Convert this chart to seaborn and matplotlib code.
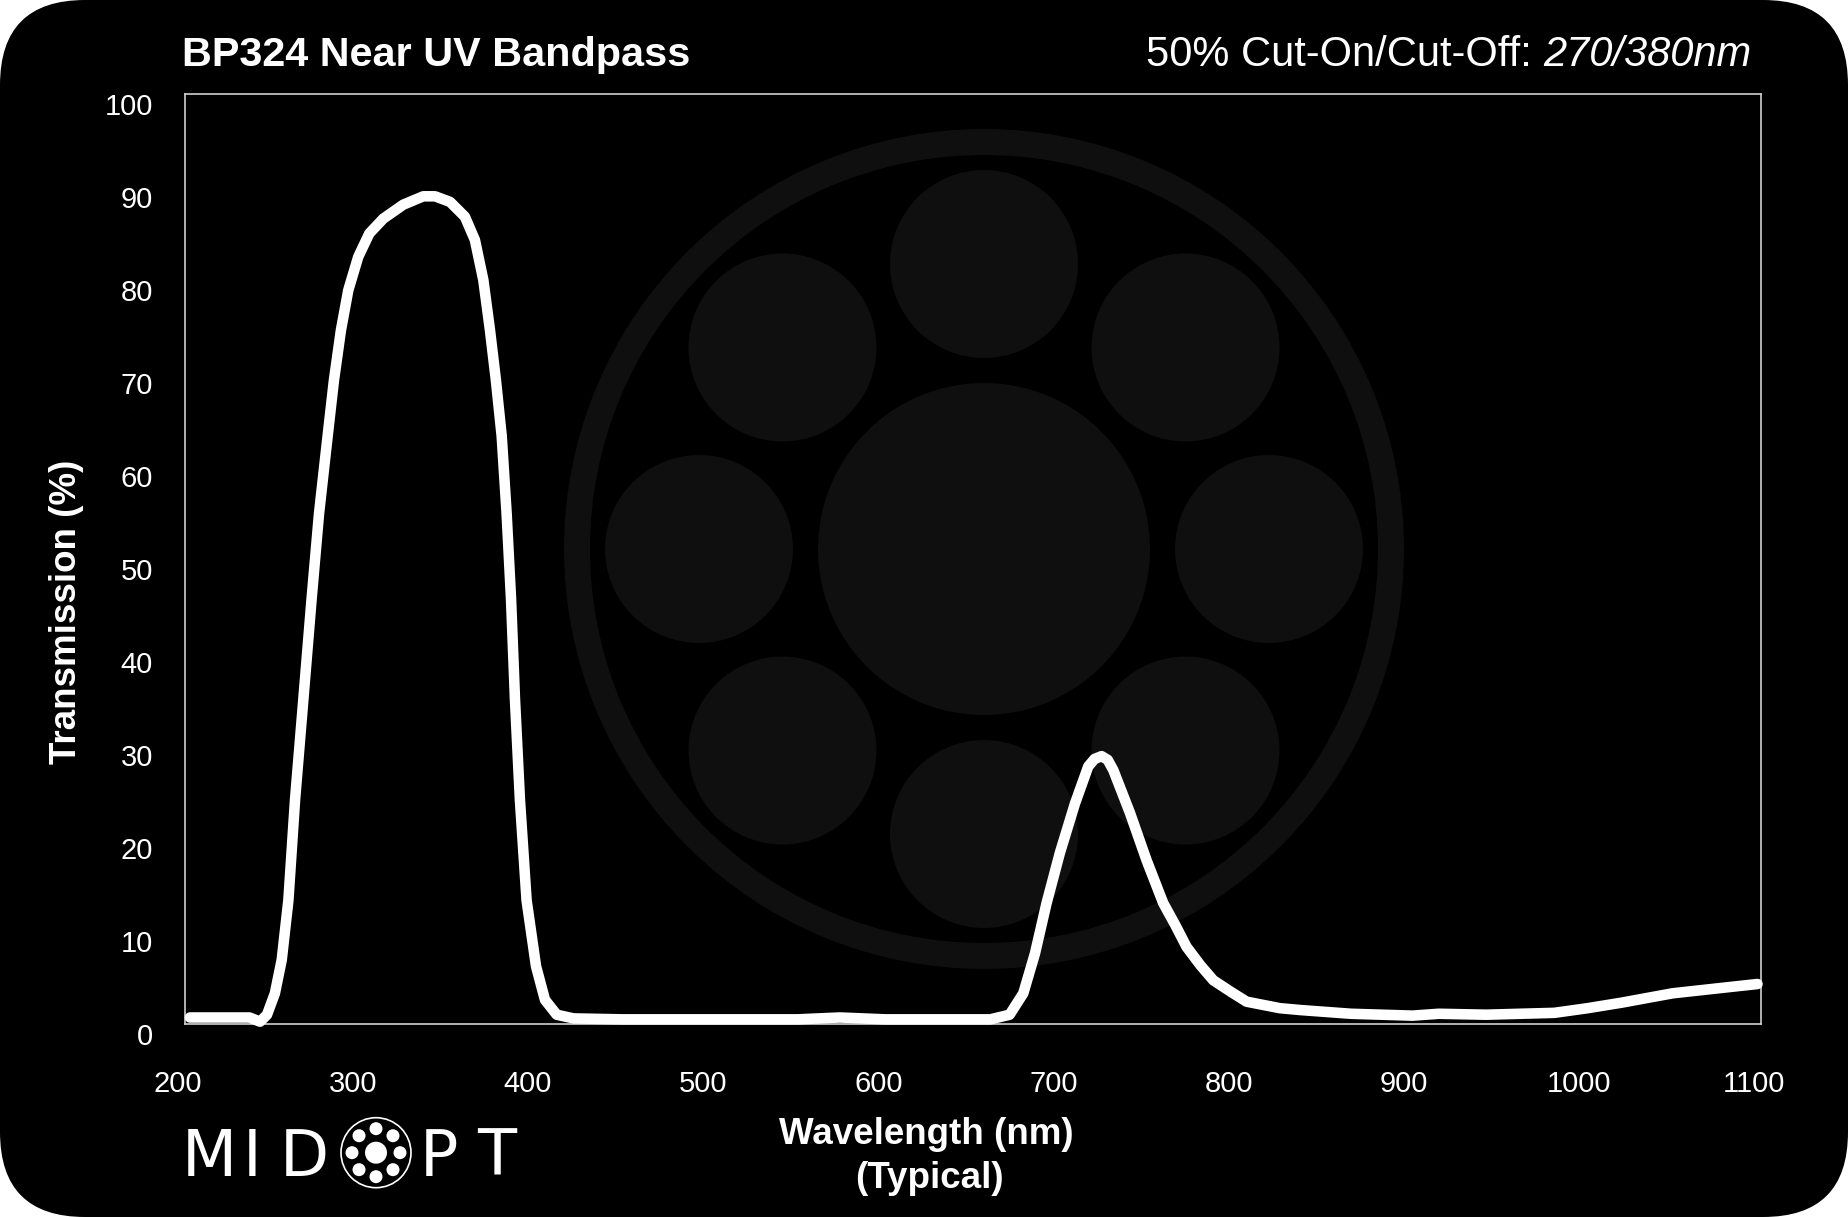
import math
import matplotlib
matplotlib.use("Agg")
import matplotlib.pyplot as plt
import seaborn as sns
from matplotlib.patches import Circle, Wedge, FancyBboxPatch
from matplotlib.transforms import ScaledTranslation

# -------------------------------
# Data
# -------------------------------
wavelength = [203, 220, 237, 243, 247, 251.5, 255.4, 259.2, 263, 267.7,
              272.5, 276.7, 281.6, 285.2, 289.2, 293.4, 299.1, 305.4, 313.4, 324.8,
              336.2, 342.9, 351.5, 360, 365.7, 370.5, 374.3, 377.7, 381, 383.8,
              386.3, 388.6, 391.4, 395.2, 400.6, 405.7, 412.4, 422, 450, 500,
              550, 574, 600, 640, 660, 671, 678.8, 685.5, 692.1, 699.7,
              708.3, 715.9, 719.5, 723.5, 727, 730.2, 739.7, 749.2, 758.7, 765.7,
              772, 780, 787.3, 797, 806.3, 825.3, 837, 866, 901, 916,
              943, 982, 1001, 1020.6, 1049.5, 1078.5, 1098]
transmission = [0.7, 0.7, 0.7, 0.25, 1.0, 3.3, 6.9, 13.3, 24.1, 34.8,
                45.8, 54.9, 63.2, 69.2, 74.6, 78.9, 82.5, 85.0, 86.6, 88.1,
                89.0, 89.0, 88.4, 86.8, 84.3, 80.0, 74.6, 69.2, 63.2, 54.9,
                45.8, 34.8, 24.1, 13.3, 6.2, 2.6, 1.0, 0.6, 0.5, 0.5,
                0.5, 0.7, 0.5, 0.5, 0.5, 1.0, 3.3, 7.6, 13.0, 18.4,
                23.7, 27.7, 28.5, 28.8, 28.4, 27.3, 22.7, 17.6, 13.0, 10.6,
                8.3, 6.3, 4.7, 3.5, 2.4, 1.7, 1.5, 1.1, 0.9, 1.1,
                1.0, 1.2, 1.7, 2.3, 3.3, 3.9, 4.3]

x_ticks = [200, 300, 400, 500, 600, 700, 800, 900, 1000, 1100]
y_ticks = [0, 10, 20, 30, 40, 50, 60, 70, 80, 90, 100]

title_text = "BP324 Near UV Bandpass"
cut_label = "50% Cut-On/Cut-Off: "
cut_value = "270/380nm"
y_label = "Transmission (%)"
x_label = "Wavelength (nm)"
x_sub_label = "(Typical)"
logo_letters = ["M", "I", "D", "P", "T"]

# -------------------------------
# Style
# -------------------------------
sns.set_theme(style="dark")
plt.rcParams['font.family'] = ['Liberation Sans', 'DejaVu Sans']

W, H, DPI = 1848, 1217, 100
fig = plt.figure(figsize=(W / DPI, H / DPI), dpi=DPI, facecolor="white")
inch = fig.dpi_scale_trans


def px(x, y):
    # image pixel (top-left origin) -> inches from bottom-left
    return x / DPI, (H - y) / DPI


# rounded black card
card = FancyBboxPatch((0, 0), W / DPI, H / DPI,
                      boxstyle="round,pad=0,rounding_size=0.85",
                      transform=inch, facecolor="black", edgecolor="none", zorder=-3)
fig.add_artist(card)

# faint watermark logo behind the chart
wm = "#0f0f0f"
cx, cy = 984, 549
fig.add_artist(Wedge(px(cx, cy), 4.20, 0, 360, width=0.26, transform=inch,
                     facecolor=wm, edgecolor="none", zorder=-2))
fig.add_artist(Circle(px(cx, cy), 1.66, transform=inch, facecolor=wm,
                      edgecolor="none", zorder=-2))
for k in range(8):
    a = math.radians(90 - 45 * k)
    fig.add_artist(Circle(px(cx + 285 * math.cos(a), cy - 285 * math.sin(a)), 0.94,
                          transform=inch, facecolor=wm, edgecolor="none", zorder=-2))

# -------------------------------
# Chart
# -------------------------------
ax = fig.add_axes([184.7 / W, 1 - 1024 / H, (1761 - 184.7) / W, (1024 - 94) / H])
ax.set_facecolor("none")
ax.grid(False)

sns.lineplot(x=wavelength, y=transmission, ax=ax, color="white", linewidth=7.6,
             estimator=None, sort=False, solid_capstyle="round",
             solid_joinstyle="round", clip_on=False, zorder=3)

ax.set_xlim(200, 1100)
ax.set_ylim(0, 100)
ax.set_xticks(x_ticks)
ax.set_yticks(y_ticks)
ax.set_xlabel("")
ax.set_ylabel("")

ax.tick_params(axis="x", direction="inout", length=26.6, width=2.2, color="white",
               pad=20, labelsize=21, labelcolor="white")
ax.tick_params(axis="y", length=0, pad=23, labelsize=21, labelcolor="white")
xt = ax.xaxis.get_major_ticks()
xt[0].tick1line.set_visible(False)
xt[-1].tick1line.set_visible(False)

yshift = ScaledTranslation(0, -10 / DPI, inch)
for lab in ax.get_yticklabels():
    lab.set_transform(lab.get_transform() + yshift)
xshift = ScaledTranslation(-7 / DPI, 0, inch)
for lab in ax.get_xticklabels():
    lab.set_transform(lab.get_transform() + xshift)

for side in ["left", "right", "top", "bottom"]:
    ax.spines[side].set_visible(True)
    ax.spines[side].set_color("#cfcfcf")
    ax.spines[side].set_linewidth(1.2)

# -------------------------------
# Texts
# -------------------------------
fig.text(*px(182, 66), title_text, transform=inch, ha="left", va="baseline",
         color="white", fontsize=29.8, fontweight="bold")
val = fig.text(*px(1751, 66), cut_value, transform=inch, ha="right", va="baseline",
               color="white", fontsize=30, fontstyle="italic")
ax.annotate(cut_label, xy=(0, 0), xycoords=val, ha="right", va="bottom",
            color="white", fontsize=30, annotation_clip=False)

fig.text(*px(67, 612), y_label, transform=inch, rotation=90, ha="center", va="center",
         color="white", fontsize=26.5, fontweight="bold")
fig.text(*px(926, 1135), x_label, transform=inch, ha="center", va="center",
         color="white", fontsize=26.5, fontweight="bold")
fig.text(*px(929, 1179), x_sub_label, transform=inch, ha="center", va="center",
         color="white", fontsize=26.5, fontweight="bold")

# MidOpt logo in the lower left
letter_x = [209, 252.5, 304, 439, 496.7]
for letter, lx in zip(logo_letters, letter_x):
    fig.text(*px(lx, 1175.7), letter, transform=inch, ha="center", va="baseline",
             color="white", fontsize=46, family=["DejaVu Sans"],
             fontweight="normal")
lcx, lcy = 376, 1152.7
fig.add_artist(Circle(px(lcx, lcy), 0.35, transform=inch, facecolor="black",
                      edgecolor="white", linewidth=1.2))
fig.add_artist(Circle(px(lcx, lcy), 0.11, transform=inch, facecolor="white",
                      edgecolor="none"))
for k in range(8):
    a = math.radians(90 - 45 * k)
    fig.add_artist(Circle(px(lcx + 24 * math.cos(a), lcy - 24 * math.sin(a)), 0.065,
                          transform=inch, facecolor="white", edgecolor="none"))

fig.savefig("out.png", dpi=DPI)
print("saved out.png")
